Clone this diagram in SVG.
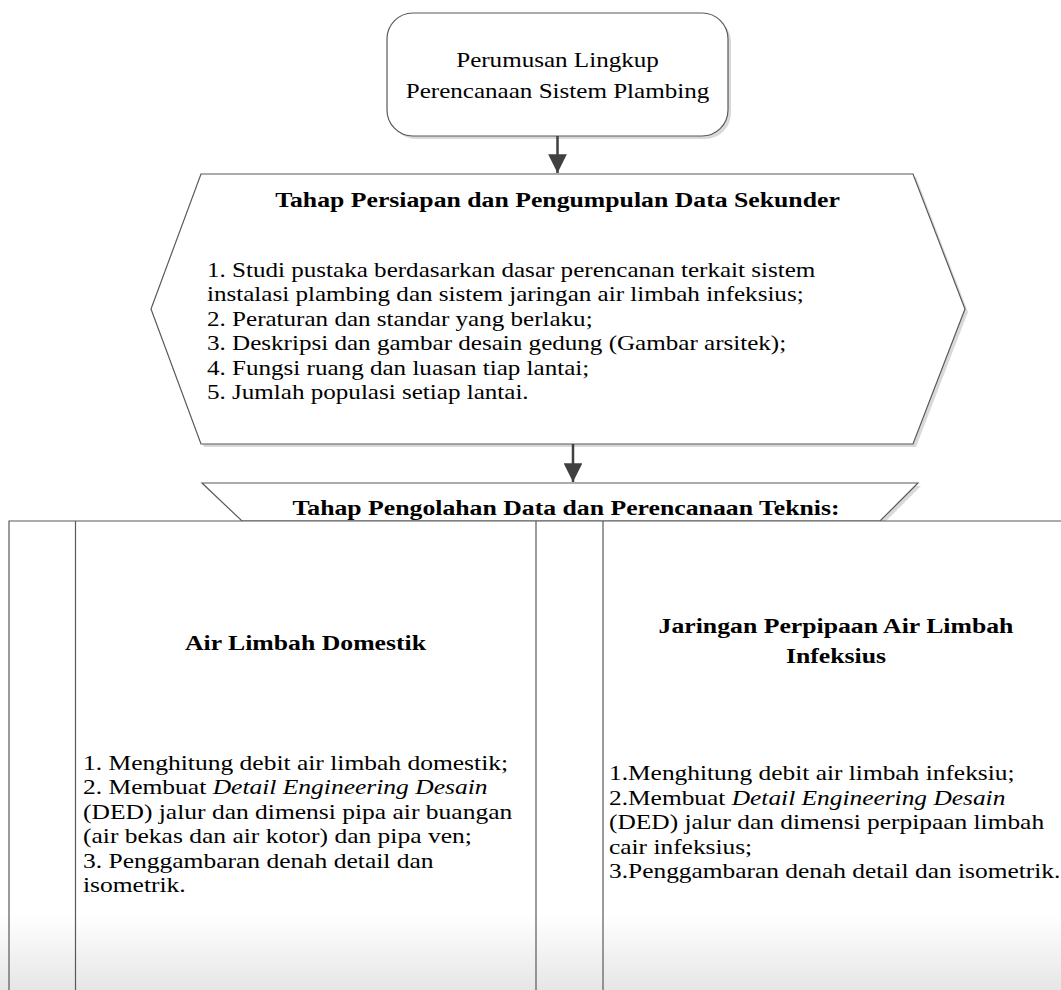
<svg xmlns="http://www.w3.org/2000/svg" width="1061" height="990" viewBox="0 0 1061 990" font-family="Liberation Serif, Times New Roman, serif">
  <defs>
    <linearGradient id="fade" x1="0" y1="0" x2="0" y2="1">
      <stop offset="0" stop-color="#ffffff"/>
      <stop offset="1" stop-color="#e6e6e6"/>
    </linearGradient>
    <marker id="arr" viewBox="0 0 10 10" refX="10" refY="5" markerWidth="7.5" markerHeight="7.5" markerUnits="strokeWidth" orient="auto">
      <path d="M0,0 L10,5 L0,10 Z" fill="#404040"/>
    </marker>
  </defs>
  <style>
    .shape { fill: #ffffff; stroke: #595959; stroke-width: 1.2; }
    .shadow { fill: #d9d9d9; stroke: none; }
    .line { stroke: #595959; stroke-width: 1.2; fill: none; }
    .conn { stroke: #404040; stroke-width: 2.5; fill: none; }
    .t { font-family: 'Liberation Serif', 'Times New Roman', serif; font-size: 22px; fill: #000000; }
    .b { font-weight: bold; }
    .c { text-anchor: middle; }
    .i { font-style: italic; }
  </style>
  <rect width="1061" height="990" fill="#ffffff"/>

  <g id="node-start">
    <rect class="shadow" x="390" y="16" width="341" height="123" rx="26"/>
    <rect class="shape" x="387" y="13" width="341" height="123" rx="26"/>
    <g class="t c" transform="translate(557.5,0) scale(1.14,1)">
      <text x="0" y="67">Perumusan Lingkup</text>
      <text x="0" y="98">Perencanaan Sistem Plambing</text>
    </g>
  </g>

  <g id="node-persiapan">
    <polygon class="shadow" points="204,177 916,177 968,312 916,447 204,447 154,312"/>
    <polygon class="shape" points="201,174 913,174 965,309 913,444 201,444 151,309"/>
    <g class="t c b" transform="translate(557.5,0) scale(1.17,1)">
      <text x="0" y="207">Tahap Persiapan dan Pengumpulan Data Sekunder</text>
    </g>
    <g class="t" transform="translate(207,0) scale(1.14,1)">
      <text x="0" y="277">1. Studi pustaka berdasarkan dasar perencanan terkait sistem</text>
      <text x="0" y="301.5">instalasi plambing dan sistem jaringan air limbah infeksius;</text>
      <text x="0" y="326">2. Peraturan dan standar yang berlaku;</text>
      <text x="0" y="350.5">3. Deskripsi dan gambar desain gedung (Gambar arsitek);</text>
      <text x="0" y="375">4. Fungsi ruang dan luasan tiap lantai;</text>
      <text x="0" y="399.5">5. Jumlah populasi setiap lantai.</text>
    </g>
  </g>

  <g id="node-pengolahan">
    <polygon class="shadow" points="205,486 921,486 883,524 245,524"/>
    <polygon class="shape" points="202,483 918,483 880,521 242,521"/>
    <g class="t c b" transform="translate(566,0) scale(1.17,1)">
      <text x="0" y="515">Tahap Pengolahan Data dan Perencanaan Teknis:</text>
    </g>
  </g>

  <g id="node-pool">
    <rect x="9" y="521" width="1062" height="480" fill="#ffffff"/>
    <rect x="0" y="915" width="1061" height="75" fill="url(#fade)"/>
    <path class="line" d="M9,1000 V521 H1075"/>
    <line class="line" x1="75.5" y1="521" x2="75.5" y2="1000"/>
    <line class="line" x1="536" y1="521" x2="536" y2="1000"/>
    <line class="line" x1="603" y1="521" x2="603" y2="1000"/>
  </g>

  <g id="node-domestik">
    <g class="t c b" transform="translate(305.5,0) scale(1.17,1)">
      <text x="0" y="650">Air Limbah Domestik</text>
    </g>
    <g class="t" transform="translate(83,0) scale(1.16,1)">
      <text x="0" y="770">1. Menghitung debit air limbah domestik;</text>
      <text x="0" y="794.4">2. Membuat <tspan class="i">Detail Engineering Desain</tspan></text>
      <text x="0" y="818.8">(DED) jalur dan dimensi pipa air buangan</text>
      <text x="0" y="843.2">(air bekas dan air kotor) dan pipa ven;</text>
      <text x="0" y="867.6">3. Penggambaran denah detail dan</text>
      <text x="0" y="892">isometrik.</text>
    </g>
  </g>

  <g id="node-infeksius">
    <g class="t c b" transform="translate(836,0) scale(1.17,1)">
      <text x="0" y="633">Jaringan Perpipaan Air Limbah</text>
      <text x="0" y="663">Infeksius</text>
    </g>
    <g class="t" transform="translate(609,0) scale(1.155,1)">
      <text x="0" y="780.5">1.Menghitung debit air limbah infeksiu;</text>
      <text x="0" y="805">2.Membuat <tspan class="i">Detail Engineering Desain</tspan></text>
      <text x="0" y="829.4">(DED) jalur dan dimensi perpipaan limbah</text>
      <text x="0" y="853.8">cair infeksius;</text>
      <text x="0" y="878.2">3.Penggambaran denah detail dan isometrik.</text>
    </g>
  </g>

  <g id="connectors">
    <line class="conn" x1="557.5" y1="136" x2="557.5" y2="173" marker-end="url(#arr)"/>
    <line class="conn" x1="573" y1="444" x2="573" y2="482" marker-end="url(#arr)"/>
  </g>
</svg>
